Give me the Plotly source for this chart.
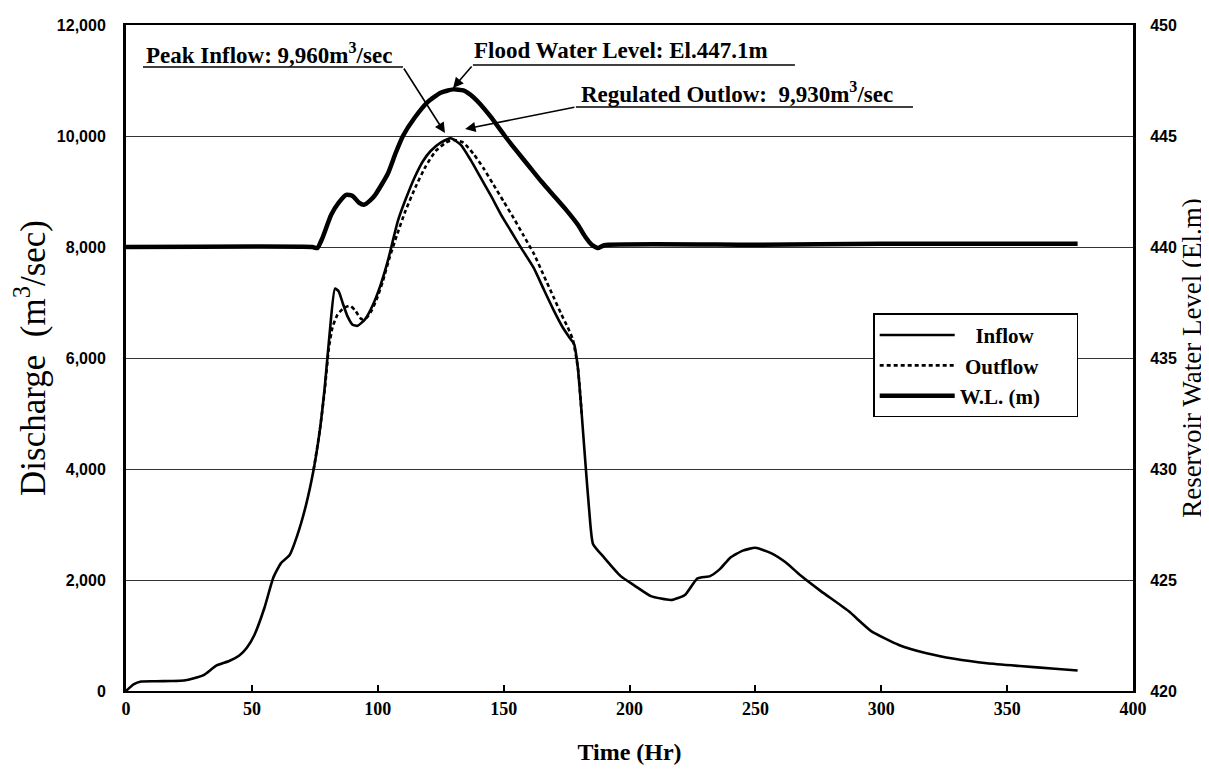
import plotly.graph_objects as go

# ---------------- data ----------------
time_inflow = [0, 3, 6, 12, 18, 23, 27, 31, 36, 41, 45, 48, 51, 55, 58.5, 61.5, 65, 68, 71.5,
               74.5, 77, 79, 81, 83, 84.5, 86, 88, 90, 92, 95, 98, 101, 104, 108, 111, 114.5,
               118, 121, 125, 129, 133, 137, 141, 145, 149, 153, 157, 162, 166, 170, 173.5,
               176, 178, 179.5, 181, 182.5, 184, 185.5, 190, 196.5, 202, 208.5, 216.5, 222,
               227, 232, 236, 240, 245, 250, 256, 262, 268, 276, 287, 296, 307, 318, 329, 342,
               355, 369, 378]
inflow = [0, 120, 170, 175, 180, 190, 230, 290, 460, 540, 640, 780, 1010, 1500, 2040, 2300,
          2450, 2800, 3350, 3980, 4700, 5500, 6500, 7250, 7200, 7000, 6750, 6600, 6580, 6700,
          6950, 7300, 7750, 8470, 8850, 9240, 9550, 9730, 9880, 9960, 9840, 9560, 9240, 8920,
          8580, 8280, 7980, 7620, 7230, 6850, 6550, 6380, 6250, 5820, 5000, 4100, 3250, 2650,
          2400, 2070, 1900, 1710, 1640, 1730, 2030, 2070, 2200, 2400, 2530, 2580, 2490, 2320,
          2080, 1800, 1440, 1080, 830, 680, 580, 500, 450, 400, 370]

time_outflow = [74.5, 77, 79, 80.5, 82, 84, 86.5, 89, 91, 93.5, 95.5, 97.5, 99.5, 102, 104.5,
                107.5, 111, 115, 119, 123, 127, 130, 134, 138, 142, 146, 150, 154, 158, 162,
                166, 170, 173, 175.5, 177.5, 179.5, 181]
outflow = [3980, 4700, 5450, 6150, 6550, 6780, 6900, 6940, 6860, 6700, 6720, 6850, 7050, 7380,
           7780, 8200, 8650, 9080, 9450, 9730, 9880, 9930, 9880, 9680, 9420, 9120, 8820, 8520,
           8200, 7880, 7480, 7080, 6780, 6550, 6330, 5820, 5000]

time_wl = [0, 74, 76, 78, 81.5, 84.5, 87.5, 90, 92.5, 94.5, 97, 99, 104, 107, 110, 114.5, 120,
           125, 130, 134, 138, 141, 145, 150.5, 155, 160, 165, 170, 175, 179.5, 182.5, 185,
           187.5, 190, 250, 300, 378]
water_level = [440.0, 440.0, 439.95, 440.4, 441.45, 442.0, 442.35, 442.3, 442.0, 441.9, 442.1,
               442.35, 443.3, 444.2, 445.0, 445.8, 446.55, 446.95, 447.1, 447.05, 446.75, 446.4,
               445.85, 445.0, 444.35, 443.65, 442.95, 442.3, 441.65, 441.0, 440.45, 440.1,
               439.95, 440.08, 440.1, 440.15, 440.15]

x_ticks = [0, 50, 100, 150, 200, 250, 300, 350, 400]
y_ticks = [0, 2000, 4000, 6000, 8000, 10000, 12000]
y_tick_labels = ["0", "2,000", "4,000", "6,000", "8,000", "10,000", "12,000"]
y2_ticks = [420, 425, 430, 435, 440, 445, 450]

SERIF = "Liberation Serif"
SANS = "Liberation Sans"
NB = "\u00a0"

fig = go.Figure()
fig.add_trace(go.Scatter(x=time_inflow, y=inflow, name=NB * 3 + "Inflow", mode="lines",
                         line=dict(color="black", width=2.6, shape="spline", smoothing=0.5)))
fig.add_trace(go.Scatter(x=time_outflow, y=outflow, name=NB + "Outflow", mode="lines",
                         line=dict(color="black", width=2.6, dash="4px,3px",
                                   shape="spline", smoothing=0.5)))
fig.add_trace(go.Scatter(x=time_wl, y=water_level, name="W.L. (m)" + NB * 6, mode="lines",
                         yaxis="y2",
                         line=dict(color="black", width=4.5, shape="spline", smoothing=0.5)))

# ---------------- annotations ----------------
ann_font = dict(family=SERIF, size=23, color="black", weight="bold")
annotations = [
    dict(x=7.0, y=11480, xref="x", yref="y", xanchor="left", yanchor="middle",
         text="Peak Inflow: 9,960m<sup>3</sup>/sec", showarrow=False, font=ann_font),
    dict(x=137.5, y=11540, xref="x", yref="y", xanchor="left", yanchor="middle",
         text="Flood Water Level: El.447.1m", showarrow=False, font=ann_font),
    dict(x=180, y=10780, xref="x", yref="y", xanchor="left", yanchor="middle",
         text="Regulated Outlow:" + NB + NB + "9,930m<sup>3</sup>/sec", showarrow=False,
         font=ann_font),
    # arrows
    dict(x=126.7, y=10054, xref="x", yref="y", ax=110.0, ay=11243, axref="x", ayref="y",
         text="", showarrow=True, arrowhead=2, arrowsize=1.3, arrowwidth=1.6, arrowcolor="black"),
    dict(x=129.9, y=10865, xref="x", yref="y", ax=137.8, ay=11279, axref="x", ayref="y",
         text="", showarrow=True, arrowhead=2, arrowsize=1.3, arrowwidth=1.6, arrowcolor="black"),
    dict(x=134.7, y=10126, xref="x", yref="y", ax=178.7, ay=10523, axref="x", ayref="y",
         text="", showarrow=True, arrowhead=2, arrowsize=1.3, arrowwidth=1.6, arrowcolor="black"),
]

shapes = [
    dict(type="line", xref="x", yref="y", x0=6.75, x1=110.0, y0=11243, y1=11243,
         line=dict(color="black", width=1.6)),
    dict(type="line", xref="x", yref="y", x0=137.8, x1=265.7, y0=11279, y1=11279,
         line=dict(color="black", width=1.6)),
    dict(type="line", xref="x", yref="y", x0=178.7, x1=312.6, y0=10523, y1=10523,
         line=dict(color="black", width=1.6)),
]

fig.update_layout(
    width=1209, height=775,
    margin=dict(l=118, r=84, t=17, b=92, autoexpand=False),
    paper_bgcolor="white", plot_bgcolor="white",
    font=dict(family=SERIF, color="black"),
    annotations=annotations,
    shapes=shapes,
    showlegend=True,
    legend=dict(x=0.742, y=0.567, xanchor="left", yanchor="top",
                bgcolor="white", bordercolor="black", borderwidth=1.5,
                font=dict(family=SERIF, size=21, color="black", weight="bold"),
                itemwidth=75),
    xaxis=dict(range=[0, 400], tickvals=x_ticks, ticks="inside", ticklen=6, tickwidth=1.5,
               tickcolor="black", showline=True, linewidth=2, linecolor="black", mirror=True,
               showgrid=False, zeroline=False, automargin=False,
               tickfont=dict(family=SERIF, size=18, color="black", weight="bold"),
               title=dict(text="Time (Hr)", standoff=26,
                          font=dict(family=SERIF, size=24, color="black", weight="bold"))),
    yaxis=dict(range=[0, 12000], tickvals=y_ticks, ticktext=y_tick_labels, ticks="",
               showline=True, linewidth=3, linecolor="black", showgrid=True,
               gridcolor="#333333", gridwidth=1, zeroline=False, ticklabelstandoff=14,
               automargin=False,
               tickfont=dict(family=SANS, size=16, color="black", weight="bold"),
               title=dict(text="Discharge" + NB + NB + "(m<sup>3</sup>/sec)", standoff=4,
                          font=dict(family=SERIF, size=35, color="black"))),
    yaxis2=dict(range=[420, 450], tickvals=y2_ticks, overlaying="y", side="right", ticks="",
                showline=True, linewidth=3, linecolor="black", showgrid=False, zeroline=False,
                ticklabelstandoff=11, automargin=False,
                tickfont=dict(family=SANS, size=16, color="black", weight="bold"),
                title=dict(text="Reservoir Water Level (El.m)", standoff=1,
                           font=dict(family=SERIF, size=27, color="black"))),
)

fig.write_html("out.html")
